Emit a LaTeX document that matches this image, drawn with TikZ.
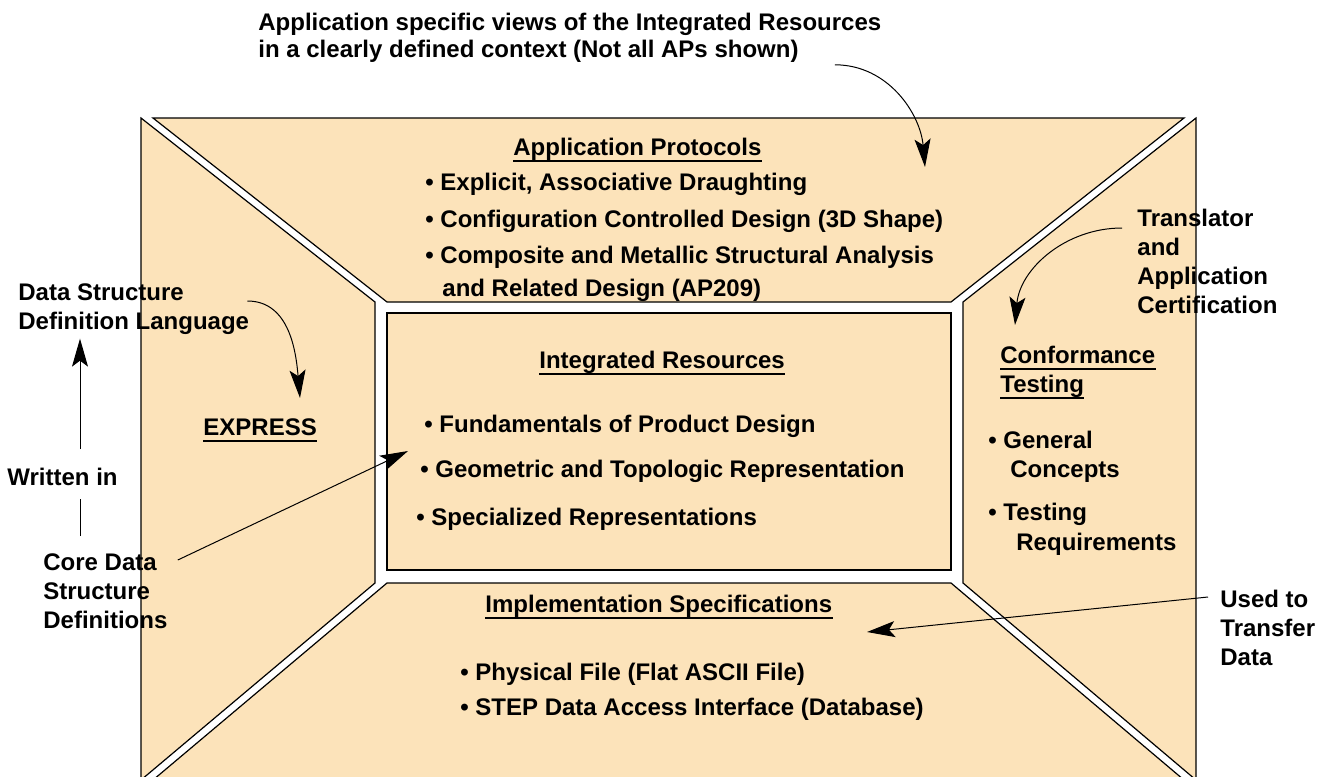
\documentclass[tikz,border=0pt]{standalone}
\usepackage{fontspec}
\setmainfont{Liberation Sans}
\usetikzlibrary{positioning,arrows.meta}
\definecolor{panelTan}{HTML}{FCE3BA}

\begin{document}
\begin{tikzpicture}[x=0.5pt, y=-0.5pt, >={Stealth[length=14pt,width=8pt,inset=3pt]},
    panel/.style={fill=panelTan, draw=black, line width=0.6pt},
    lbl/.style={font=\fontsize{12}{14.5}\selectfont\bfseries, inner sep=0pt, anchor=base west},
    blk/.style={font=\fontsize{12}{14.5}\selectfont\bfseries, inner sep=0pt, anchor=north west, align=left},
    heading/.style={lbl, text depth=2.6pt},
    underl/.style={line width=1pt},
    callout/.style={line width=0.5pt}]
  \clip (0,0) rectangle (1332,776);
  \fill[white] (0,0) rectangle (1332,776);
  % the four panels and the core box
  \draw[panel] (153,118) -- (1184,118) -- (951,302) -- (387,302) -- cycle;
  \draw[panel] (141,118) -- (375,302) -- (375,583) -- (141,780) -- cycle;
  \draw[panel] (1196,118) -- (1196,780) -- (963,583) -- (963,302) -- cycle;
  \draw[panel] (387,583) -- (951,583) -- (1184,780) -- (153,780) -- cycle;
  \draw[panel] (387,313) rectangle (951,570);

  % top caption
  \node[lbl] (capA) at (258,31) {Application specific views of the Integrated Resources};
  \node[lbl] (capB) at (258,57) {in a clearly defined context (Not all APs shown)};
  \coordinate (apTip) at (925,167);
  \draw[callout, ->] ([shift={(36,14)}]capB.east) to[out=0, in=95] (apTip);

  % application protocols
  \node[heading] (apHead) at (513,155) {Application Protocols};
  \draw[underl] (apHead.south west) -- (apHead.south east);
  \node[lbl] (apOne) at (425,190) {• Explicit, Associative Draughting};
  \node[lbl] (apTwo) at (425,227) {• Configuration Controlled Design (3D Shape)};
  \node[lbl] (apThree) at (425,263) {• Composite and Metallic Structural Analysis};
  \node[lbl] (apFour) at (442,296) {and Related Design (AP209)};

  % integrated resources
  \node[heading] (irHead) at (539,368) {Integrated Resources};
  \draw[underl] (irHead.south west) -- (irHead.south east);
  \node[lbl] (irOne) at (424,432) {• Fundamentals of Product Design};
  \node[lbl] (irTwo) at (420,477) {• Geometric and Topologic Representation};
  \node[lbl] (irThree) at (416,525) {• Specialized Representations};
  \coordinate (irTip) at (408,451);

  % implementation specifications
  \node[heading] (isHead) at (485,612) {Implementation Specifications};
  \draw[underl] (isHead.south west) -- (isHead.south east);
  \node[lbl] (isOne) at (460,680) {• Physical File (Flat ASCII File)};
  \node[lbl] (isTwo) at (460,715) {• STEP Data Access Interface (Database)};
  \coordinate (isTip) at (867,632);

  % express
  \node[heading] (expr) at (203,435) {EXPRESS};
  \draw[underl] (expr.south west) -- (expr.south east);
  \coordinate (exTip) at (300,398);

  % left side notes
  \coordinate (wAxis) at (80,0);
  \node[blk] (dsdl) at (18,283) {Data Structure\\Definition Language};
  \node[lbl] (writ) at (7,485) {Written in};
  \node[blk] (core) at (43,553) {Core Data\\Structure\\Definitions};
  \draw[callout, ->, shorten <=9pt, shorten >=2pt] (writ.north -| wAxis) -- (dsdl.south -| wAxis);
  \draw[callout, shorten <=8.5pt, shorten >=6.5pt] (core.north -| wAxis) -- (writ.south -| wAxis);
  \draw[callout, ->] ([shift={(-2,18)}]dsdl.north east) to[out=0, in=95] (exTip);
  \draw[callout, ->] ([shift={(10,7)}]core.north east) -- (irTip);

  % conformance testing
  \node[heading] (ctHead) at (1000,363) {Conformance};
  \draw[underl] (ctHead.south west) -- (ctHead.south east);
  \node[heading] (ctHeadB) at (1000,392) {Testing};
  \draw[underl] (ctHeadB.south west) -- (ctHeadB.south east);
  \node[lbl] (ctOne) at (988,448) {• General};
  \node[lbl] (ctOneB) at (1010,477) {Concepts};
  \node[lbl] (ctTwo) at (988,520) {• Testing};
  \node[lbl] (ctTwoB) at (1016,550) {Requirements};
  \coordinate (ctTip) at (1015,325);

  % right side notes
  \node[blk] (trans) at (1137,209) {Translator\\and\\Application\\Certification};
  \node[blk] (used) at (1220,590) {Used to\\Transfer\\Data};
  \draw[callout, ->] ([shift={(-15,19)}]trans.north west) to[out=180, in=85] (ctTip);
  \draw[callout, ->] ([shift={(-12,7)}]used.north west) -- (isTip);
\end{tikzpicture}
\end{document}
